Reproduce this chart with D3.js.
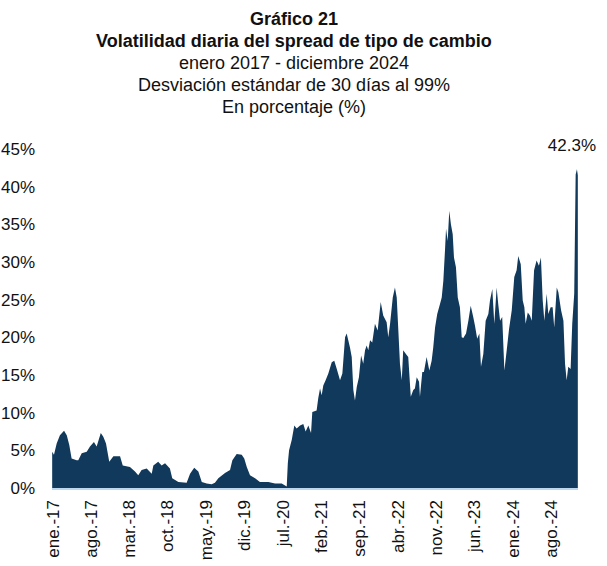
<!DOCTYPE html>
<html>
<head>
<meta charset="utf-8">
<script src="https://cdn.jsdelivr.net/npm/d3@7"></script>
<style>
  body { margin: 0; background: #fff; }
  svg text { font-family: Arial, "Liberation Sans", sans-serif; fill: #111; }
</style>
</head>
<body>
<div id="chart"></div>
<script>
// fechas (lectura aproximada del gráfico)
var fechas = [
  "2017-01-02","2017-01-12","2017-01-27","2017-02-14","2017-03-09","2017-03-24","2017-04-07","2017-04-20",
  "2017-05-18","2017-05-27","2017-06-15","2017-07-13","2017-07-31","2017-08-22","2017-09-06","2017-09-29",
  "2017-10-13","2017-10-28","2017-11-15","2017-12-08","2018-01-14","2018-01-29","2018-03-10","2018-04-07",
  "2018-04-25","2018-05-14","2018-06-11","2018-07-09","2018-07-18","2018-08-14","2018-09-02","2018-09-21",
  "2018-10-18","2018-10-31","2018-12-04","2019-01-19","2019-02-07","2019-03-02","2019-03-25","2019-04-13",
  "2019-05-10","2019-06-07","2019-06-25","2019-07-14","2019-08-20","2019-09-17","2019-09-30","2019-10-24",
  "2019-11-21","2019-12-05","2019-12-19","2020-01-06","2020-02-03","2020-03-01","2020-04-17","2020-05-24",
  "2020-06-30","2020-07-28","2020-08-03","2020-08-10","2020-08-25","2020-09-08","2020-09-21","2020-10-10",
  "2020-10-28","2020-11-10","2020-11-25","2020-12-10","2020-12-17","2021-01-10","2021-01-19","2021-01-29",
  "2021-02-07","2021-02-16","2021-03-01","2021-03-16","2021-04-04","2021-04-18","2021-05-02","2021-05-20",
  "2021-06-02","2021-06-17","2021-06-26","2021-07-14","2021-07-24","2021-08-02","2021-08-11","2021-08-21",
  "2021-09-02","2021-09-14","2021-09-26","2021-10-06","2021-10-15","2021-10-24","2021-11-03","2021-11-15",
  "2021-11-30","2021-12-15","2022-01-01","2022-01-15","2022-02-03","2022-02-12","2022-02-22","2022-03-09",
  "2022-03-21","2022-03-31","2022-04-09","2022-04-18","2022-04-28","2022-05-06","2022-05-21","2022-06-03",
  "2022-06-17","2022-07-01","2022-07-10","2022-07-20","2022-08-02","2022-08-07","2022-08-20","2022-08-29",
  "2022-09-13","2022-09-28","2022-10-11","2022-10-20","2022-10-30","2022-11-11","2022-11-26","2022-12-06",
  "2022-12-15","2022-12-24","2022-12-30","2023-01-08","2023-01-17","2023-01-26","2023-02-05","2023-02-12",
  "2023-02-23","2023-03-05","2023-03-17","2023-03-27","2023-04-05","2023-04-20","2023-05-03","2023-05-16",
  "2023-05-30","2023-06-09","2023-06-21","2023-07-03","2023-07-12","2023-07-25","2023-08-07","2023-08-22",
  "2023-08-31","2023-09-13","2023-09-24","2023-10-07","2023-10-16","2023-10-26","2023-11-07","2023-11-19",
  "2023-12-02","2023-12-15","2023-12-30","2024-01-13","2024-01-26","2024-02-04","2024-02-18","2024-02-29",
  "2024-03-09","2024-03-16","2024-03-28","2024-04-09","2024-04-19","2024-05-02","2024-05-16","2024-05-29",
  "2024-06-09","2024-06-19","2024-06-28","2024-07-11","2024-07-20","2024-08-02","2024-08-13","2024-08-22",
  "2024-09-05","2024-09-14","2024-09-29","2024-10-12","2024-10-21","2024-10-30","2024-11-08","2024-11-21",
  "2024-11-30","2024-12-11","2024-12-19","2024-12-26","2024-12-31"
];

// volatilidad (%)
var volatilidad = [
  4.8, 4.4, 5.9, 7.0, 7.6, 7.0, 5.7, 3.9,
  3.7, 3.7, 4.6, 4.8, 5.5, 6.1, 5.5, 7.3,
  6.8, 5.9, 3.5, 4.2, 4.2, 3.0, 2.8, 2.2,
  1.7, 2.4, 2.6, 1.9, 3.0, 3.5, 3.0, 3.3,
  2.6, 1.3, 0.8, 0.7, 1.9, 2.7, 2.2, 0.8,
  0.6, 0.5, 0.7, 1.3, 2.0, 2.4, 3.7, 4.5,
  4.4, 3.9, 2.8, 1.7, 1.3, 0.8, 0.8, 0.6,
  0.6, 0.2, 3.3, 5.0, 6.4, 8.3, 7.9, 8.3,
  8.5, 7.5, 8.3, 7.3, 10.1, 10.3, 11.9, 13.2,
  12.3, 13.6, 14.3, 15.2, 16.7, 16.9, 15.8, 14.3,
  15.2, 20.0, 20.5, 18.7, 17.4, 13.0, 11.6, 13.4,
  14.7, 17.6, 16.5, 18.3, 18.9, 18.3, 19.6, 19.3,
  21.8, 20.9, 24.7, 22.9, 22.0, 20.0, 21.8, 25.3,
  26.6, 25.3, 20.9, 16.5, 14.3, 18.3, 17.8, 17.4,
  12.1, 13.0, 13.2, 14.7, 14.1, 12.1, 15.4, 15.4,
  17.4, 15.6, 16.9, 18.7, 21.3, 23.1, 24.4, 25.3,
  27.5, 31.5, 34.4, 32.8, 36.8, 35.0, 33.7, 30.6,
  29.3, 25.3, 24.0, 20.0, 19.9, 20.5, 22.2, 24.2,
  22.7, 21.5, 19.8, 20.5, 16.1, 17.8, 22.2, 23.1,
  24.9, 26.4, 21.8, 26.6, 24.4, 22.2, 22.7, 15.6,
  18.3, 21.1, 23.6, 28.0, 28.9, 30.8, 29.7, 24.9,
  24.0, 21.8, 23.3, 22.9, 22.2, 28.9, 30.2, 29.5,
  30.6, 24.9, 22.2, 25.8, 23.1, 24.0, 24.0, 21.3,
  26.6, 26.0, 23.6, 22.2, 16.5, 14.3, 16.1, 15.8,
  21.8, 25.8, 41.6, 42.3, 41.5
];

var tickFechas = ["2017-01-01","2017-08-01","2018-03-01","2018-10-01","2019-05-01","2019-12-01","2020-07-01",
                  "2021-02-01","2021-09-01","2022-04-01","2022-11-01","2023-06-01","2024-01-01","2024-08-01"];
var tickLabels = ["ene.-17","ago.-17","mar.-18","oct.-18","may.-19","dic.-19","jul.-20",
                  "feb.-21","sep.-21","abr.-22","nov.-22","jun.-23","ene.-24","ago.-24"];
var yTicks = [0, 5, 10, 15, 20, 25, 30, 35, 40, 45];

var titulo = ["Gráfico 21", "Volatilidad diaria del spread de tipo de cambio",
              "enero 2017 - diciembre 2024", "Desviación estándar de 30 días al 99%", "En porcentaje (%)"];

var w = 607, h = 566;
var parse = d3.timeParse("%Y-%m-%d");

var data = fechas.map(function(f, i){
  return {fecha: parse(f), valor: volatilidad[i]};
});

var x = d3.scaleTime()
  .domain([parse("2017-01-01"), parse("2025-01-01")])
  .range([52, 578]);

var y = d3.scaleLinear()
  .domain([0, 45])
  .range([488, 149]);

var svg = d3.select("#chart").append("svg")
  .attr("width", w)
  .attr("height", h);

// titulos
svg.selectAll("text.titulo")
  .data(titulo)
  .enter()
  .append("text")
    .attr("class", "titulo")
    .attr("x", 294)
    .attr("y", function(d, i){ return 25 + i * 22; })
    .attr("text-anchor", "middle")
    .style("font-size", "18px")
    .style("font-weight", function(d, i){ return i < 2 ? "bold" : "normal"; })
    .text(function(d){ return d; });

// area
var area = d3.area()
  .x(function(d){ return x(d.fecha); })
  .y0(y(0))
  .y1(function(d){ return y(d.valor); });

svg.append("path")
  .datum(data)
  .attr("d", area)
  .style("fill", "#10395b");

// linea base
svg.append("line")
  .attr("x1", 52).attr("x2", 578)
  .attr("y1", y(0) + 1).attr("y2", y(0) + 1)
  .style("stroke", "#bdd7ee")
  .style("stroke-width", 2);

// eje y
var yAxis = svg.append("g")
  .attr("transform", "translate(52,0)")
  .call(d3.axisLeft(y).tickValues(yTicks).tickSize(0).tickPadding(17)
    .tickFormat(function(d){ return d + "%"; }));
yAxis.select(".domain").remove();
yAxis.selectAll("text").style("font-size", "17px").style("fill", "#111");

// eje x
var xAxis = svg.append("g")
  .attr("transform", "translate(0," + (y(0) + 12) + ")")
  .call(d3.axisBottom(x).tickValues(tickFechas.map(parse)).tickSize(0)
    .tickFormat(function(d, i){ return tickLabels[i]; }));
xAxis.select(".domain").remove();
xAxis.selectAll("text")
  .attr("transform", "rotate(-90)")
  .attr("text-anchor", "end")
  .attr("x", 0)
  .attr("y", 0)
  .attr("dy", "0.36em")
  .style("font-size", "17px")
  .style("fill", "#111");

// etiqueta ultimo valor
var ultimo = data[d3.maxIndex(data, function(d){ return d.valor; })];
svg.append("text")
  .attr("x", x(ultimo.fecha) - 5)
  .attr("y", y(ultimo.valor) - 18)
  .attr("text-anchor", "middle")
  .style("font-size", "17px")
  .text(d3.format(".1f")(ultimo.valor) + "%");
</script>
</body>
</html>
